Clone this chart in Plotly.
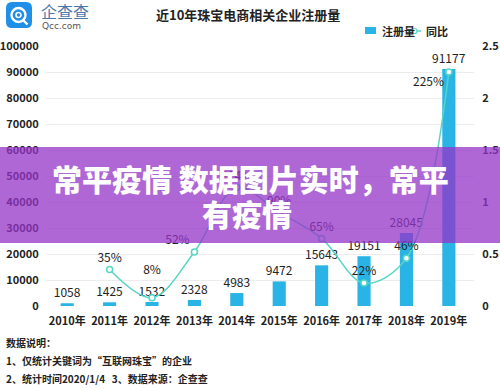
import plotly.graph_objects as go

# ---------------- data ----------------
years = ["2010年", "2011年", "2012年", "2013年", "2014年",
         "2015年", "2016年", "2017年", "2018年", "2019年"]
registrations = [1058, 1425, 1532, 2328, 4983, 9472, 15643, 19151, 28045, 91177]
yoy_years = ["2011年", "2012年", "2013年", "2014年",
             "2015年", "2016年", "2017年", "2018年", "2019年"]
yoy_growth = [0.35, 0.08, 0.52, 1.14, 0.90, 0.65, 0.22, 0.46, 2.25]
left_ticks = [0, 10000, 20000, 30000, 40000, 50000, 60000, 70000, 80000, 90000, 100000]
right_ticks = [0, 0.5, 1, 1.5, 2, 2.5]

title_text = "近10年珠宝电商相关企业注册量"
notes = ["数据说明：",
         "1、仅统计关键词为“互联网珠宝”的企业",
         "2、统计时间2020/1/4   3、数据来源：企查查"]
banner_lines = ["常平疫情 数据图片实时，常平", "有疫情"]

# ---------------- style ----------------
W, H = 500, 390
L, R, T, B = 46, 26, 46, 84
PW, PH = W - L - R, H - T - B
FONT = "Noto Sans CJK SC"
BAR_C = "#2ab4e6"
LINE_C = "#55d6c4"
TXT = "#222222"

# label placement styles for the growth labels (2011..2019)
yoy_pos = ["top center", "top center", "top left", "top center", "top center",
           "top center", "top center", "top center", "bottom left"]
yoy_pad = [0, 1, 0, 0, 0, 0, 0, 0, 0]


def fx(p):
    return (p - L) / PW


def fy(p):
    return (H - B - p) / PH


yoy_text = [f"{round(v * 100)}%" + ("<br> " * pad) for v, pad in zip(yoy_growth, yoy_pad)]

fig = go.Figure()
fig.add_trace(go.Bar(
    x=years, y=registrations, name="注册量",
    marker=dict(color=BAR_C, line=dict(width=0)),
    width=0.31,
    text=[str(v) for v in registrations], textposition="outside",
    textfont=dict(family=FONT, size=12, color=TXT),
    constraintext="none", cliponaxis=False,
    yaxis="y", hoverinfo="skip",
))
fig.add_trace(go.Scatter(
    x=yoy_years, y=yoy_growth, name="同比", yaxis="y2",
    mode="lines+markers+text",
    line=dict(color=LINE_C, width=1.5, shape="spline", smoothing=1),
    marker=dict(symbol="circle", size=6, color="white", line=dict(color=LINE_C, width=1.5)),
    text=yoy_text, textposition=yoy_pos,
    textfont=dict(family=FONT, size=12, color=TXT),
    cliponaxis=False, hoverinfo="skip",
))

shapes = []
annotations = []

# banner overlay
shapes.append(dict(type="rect", xref="paper", yref="paper",
                   x0=fx(0), x1=fx(W), y0=fy(243), y1=fy(147),
                   fillcolor="rgba(149,52,200,0.75)", line=dict(width=0), layer="above"))
annotations.append(dict(xref="paper", yref="paper", x=fx(250), y=fy(178),
                        text=banner_lines[0], showarrow=False, xanchor="center", yanchor="middle",
                        font=dict(family=FONT, size=30, color="white", weight=900)))
annotations.append(dict(xref="paper", yref="paper", x=fx(247), y=fy(213),
                        text=banner_lines[1], showarrow=False, xanchor="center", yanchor="middle",
                        font=dict(family=FONT, size=30, color="white", weight=900)))

# legend (manual)
shapes.append(dict(type="rect", xref="paper", yref="paper",
                   x0=fx(365), x1=fx(376), y0=fy(34), y1=fy(27),
                   fillcolor=BAR_C, line=dict(width=0)))
annotations.append(dict(xref="paper", yref="paper", x=fx(380), y=fy(31),
                        text="注册量", showarrow=False, xanchor="left", yanchor="middle",
                        font=dict(family=FONT, size=11, color=TXT, weight="bold")))
shapes.append(dict(type="line", xref="paper", yref="paper",
                   x0=fx(408), x1=fx(421), y0=fy(31), y1=fy(31),
                   line=dict(color=LINE_C, width=1.5)))
shapes.append(dict(type="circle", xref="paper", yref="paper",
                   x0=fx(412), x1=fx(417), y0=fy(33.5), y1=fy(28.5),
                   fillcolor="white", line=dict(color=LINE_C, width=1.2)))
annotations.append(dict(xref="paper", yref="paper", x=fx(424), y=fy(31),
                        text="同比", showarrow=False, xanchor="left", yanchor="middle",
                        font=dict(family=FONT, size=11, color=TXT, weight="bold")))

# title
annotations.append(dict(xref="paper", yref="paper", x=fx(248), y=fy(14),
                        text=title_text, showarrow=False, xanchor="center", yanchor="middle",
                        font=dict(family=FONT, size=13, color=TXT, weight="bold")))

# footnotes
for i, line in enumerate(notes):
    annotations.append(dict(xref="paper", yref="paper", x=fx(4), y=fy(342 + 18 * i),
                            text=line, showarrow=False, xanchor="left", yanchor="middle",
                            font=dict(family=FONT, size=10, color=TXT, weight="bold")))

# logo
def rpath(x0, y0, x1, y1, r):
    pts = [
        f"M{fx(x0 + r)},{fy(y0)}", f"L{fx(x1 - r)},{fy(y0)}",
        f"Q{fx(x1)},{fy(y0)} {fx(x1)},{fy(y0 + r)}", f"L{fx(x1)},{fy(y1 - r)}",
        f"Q{fx(x1)},{fy(y1)} {fx(x1 - r)},{fy(y1)}", f"L{fx(x0 + r)},{fy(y1)}",
        f"Q{fx(x0)},{fy(y1)} {fx(x0)},{fy(y1 - r)}", f"L{fx(x0)},{fy(y0 + r)}",
        f"Q{fx(x0)},{fy(y0)} {fx(x0 + r)},{fy(y0)}", "Z"]
    return " ".join(pts)


shapes.append(dict(type="path", xref="paper", yref="paper", path=rpath(6, 2, 32, 28, 6),
                   fillcolor="#1f8fe8", line=dict(width=0)))
shapes.append(dict(type="circle", xref="paper", yref="paper",
                   x0=fx(11.5), x1=fx(25.5), y0=fy(22), y1=fy(8),
                   fillcolor="rgba(0,0,0,0)", line=dict(color="white", width=2.4)))
shapes.append(dict(type="circle", xref="paper", yref="paper",
                   x0=fx(16), x1=fx(21), y0=fy(17.5), y1=fy(12.5),
                   fillcolor="rgba(0,0,0,0)", line=dict(color="white", width=1.6)))
shapes.append(dict(type="line", xref="paper", yref="paper",
                   x0=fx(23), x1=fx(27.5), y0=fy(20), y1=fy(24.5),
                   line=dict(color="white", width=2.4)))
annotations.append(dict(xref="paper", yref="paper", x=fx(39), y=fy(11),
                        text="企查查", showarrow=False, xanchor="left", yanchor="middle",
                        font=dict(family=FONT, size=16, color="#4a78ad")))
annotations.append(dict(xref="paper", yref="paper", x=fx(40), y=fy(26),
                        text="Qcc.com", showarrow=False, xanchor="left", yanchor="middle",
                        font=dict(family="DejaVu Sans", size=9, color="#555555")))

fig.update_layout(
    width=W, height=H, autosize=False,
    margin=dict(l=L, r=R, t=T, b=B, pad=0, autoexpand=False),
    paper_bgcolor="white", plot_bgcolor="white",
    showlegend=False, hovermode=False,
    font=dict(family=FONT, color=TXT),
    xaxis=dict(type="category", showgrid=False, showline=False, zeroline=False,
               automargin=False,
               ticks="outside", ticklen=5, tickcolor="rgba(0,0,0,0)",
               tickfont=dict(family=FONT, size=11, color=TXT, weight="bold")),
    yaxis=dict(range=[0, 100000], tickvals=left_ticks, tickformat="d",
               showgrid=True, gridcolor="#ececec", gridwidth=1,
               zeroline=False, showline=False, automargin=False,
               ticks="outside", ticklen=4, tickcolor="rgba(0,0,0,0)",
               tickfont=dict(family=FONT, size=11, color=TXT, weight="bold")),
    yaxis2=dict(range=[0, 2.5], tickvals=right_ticks, overlaying="y", side="right",
                showgrid=False, zeroline=False, showline=False, automargin=False,
                ticks="outside", ticklen=5, tickcolor="rgba(0,0,0,0)",
                tickfont=dict(family=FONT, size=11, color=TXT, weight="bold")),
    shapes=shapes, annotations=annotations,
    bargap=0.2,
)

fig.write_html("out.html", include_plotlyjs=True,
               config={"displayModeBar": False, "staticPlot": True},
               post_script="document.body.style.margin='0';")
